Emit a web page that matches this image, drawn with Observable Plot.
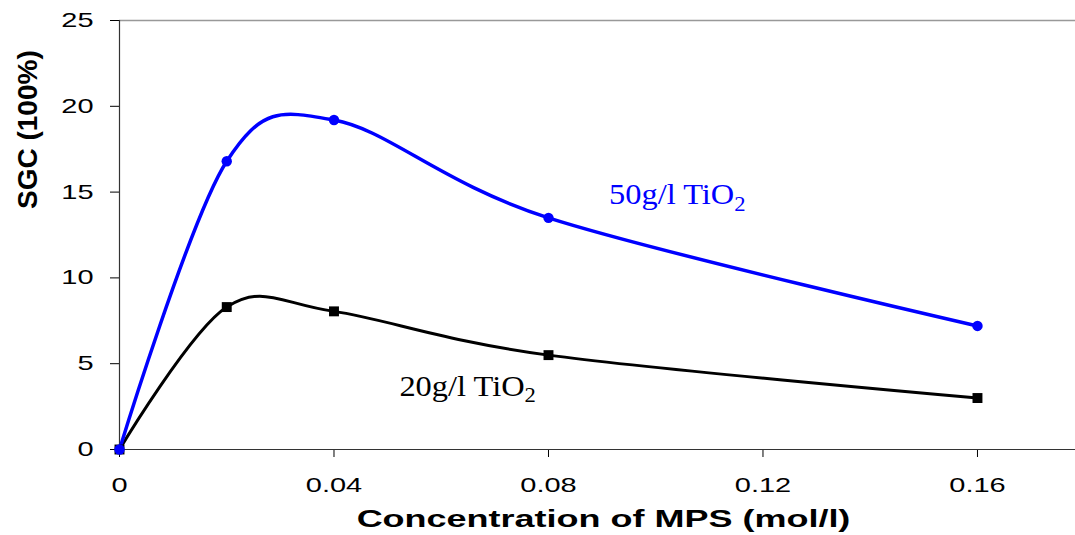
<!DOCTYPE html>
<html><head><meta charset="utf-8">
<script src="https://cdn.jsdelivr.net/npm/d3@7"></script>
<script src="https://cdn.jsdelivr.net/npm/@observablehq/plot@0.6"></script>
<style>html,body{margin:0;padding:0;background:#fff;overflow:hidden}</style>
</head><body><div id="chart"></div>
<script>
// ---- data ----
const conc = [0, 0.02, 0.04, 0.08, 0.16];
const sgc50 = [0, 16.8, 19.2, 13.5, 7.2];
const sgc20 = [0, 8.3, 8.05, 5.5, 3.0];
const seriesNames = ["50g/l TiO2", "20g/l TiO2"];
const xTicks = [0, 0.04, 0.08, 0.12, 0.16];
const xTickLabels = ["0", "0.04", "0.08", "0.12", "0.16"];
const yTicks = [0, 5, 10, 15, 20, 25];
const xTitle = "Concentration of MPS (mol/l)";
const yTitle = "SGC (100%)";

// label anchor positions (data units)
const labelX = [0.0913, 0.0522];
const labelY = [14.85, 3.7];

const rows50 = conc.map((c, i) => ({x: c, y: sgc50[i]}));
const rows20 = conc.map((c, i) => ({x: c, y: sgc20[i]}));
const labels = seriesNames.map((s, i) => ({text: s, x: labelX[i], y: labelY[i], color: i === 0 ? "#0000ff" : "#000000"}));

const chart = Plot.plot({
  width: 1075,
  height: 535,
  marginLeft: 119,
  marginRight: 0,
  marginTop: 20,
  marginBottom: 86,
  style: {fontFamily: "'Liberation Sans', Arial, sans-serif", fontSize: "20px", color: "#000", background: "#fff", overflow: "visible"},
  x: {domain: [0, 0.17828], ticks: xTicks, tickFormat: d => xTickLabels[xTicks.indexOf(d)], tickSize: 8, tickPadding: 20, label: null},
  y: {domain: [0, 25], ticks: yTicks, tickSize: 9, tickPadding: 17, label: null},
  marks: [
    Plot.ruleY([25], {stroke: "#999", strokeWidth: 1.5}),
    Plot.ruleX([0], {stroke: "#333", strokeWidth: 1.2}),
    Plot.ruleY([0], {stroke: "#333", strokeWidth: 1.2}),
    Plot.line(rows20, {x: "x", y: "y", stroke: "#000", strokeWidth: 3, curve: "cardinal"}),
    Plot.line(rows50, {x: "x", y: "y", stroke: "#0000ff", strokeWidth: 3.5, curve: "cardinal"}),
    Plot.dot(rows20, {x: "x", y: "y", r: 5.6, fill: "#000", symbol: "square"}),
    Plot.dot(rows50, {x: "x", y: "y", r: 5.2, fill: "#0000ff", symbol: "circle"}),
    Plot.text(labels, {x: "x", y: "y", text: "text", fill: d => d.color, textAnchor: "start", lineAnchor: "middle", fontFamily: "'Liberation Serif', 'Times New Roman', serif", fontSize: 30}),
    Plot.text([yTitle], {frameAnchor: "left", dx: -91, dy: -26, rotate: -90, fontWeight: "bold", fontSize: 28, lineAnchor: "middle"}),
    Plot.text([xTitle], {frameAnchor: "bottom", dx: 6, dy: 70, fontWeight: "bold", fontSize: 24, lineAnchor: "middle"})
  ]
});
document.getElementById("chart").appendChild(chart);

// ---- text post-processing: wide glyphs and subscripts ----
function stretch(el, sx) {
  const xa = el.getAttribute("x");
  const x = xa && !/em/.test(xa) ? +xa : 0;
  if (xa && !/em/.test(xa)) el.removeAttribute("x");
  const t = el.getAttribute("transform") || "";
  el.setAttribute("transform", `${t} translate(${x},0) scale(${sx},1)`);
}
const svg = chart.tagName.toLowerCase() === "svg" ? chart : chart.querySelector("svg");
svg.querySelectorAll("text").forEach(el => {
  const s = el.textContent;
  if (/^[0-9.]+$/.test(s)) {
    stretch(el, 1.45);
  } else if (s === xTitle) {
    stretch(el, 1.5);
  } else if (/TiO2$/.test(s)) {
    el.textContent = "";
    const a = document.createElementNS("http://www.w3.org/2000/svg", "tspan");
    a.textContent = s.slice(0, -1);
    const b = document.createElementNS("http://www.w3.org/2000/svg", "tspan");
    b.textContent = "2";
    b.setAttribute("font-size", "0.7em");
    b.setAttribute("dy", "0.3em");
    el.appendChild(a); el.appendChild(b);
    stretch(el, 1.08);
  }
});
</script>
</body></html>
